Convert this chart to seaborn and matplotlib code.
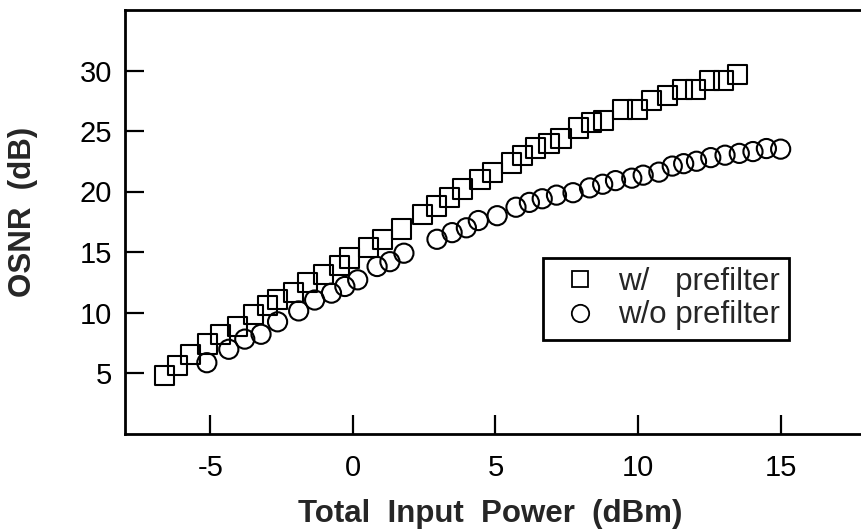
import matplotlib
matplotlib.use("Agg")
import matplotlib.pyplot as plt
from matplotlib.lines import Line2D
import seaborn as sns
import pandas as pd

# ---- data ----
with_x = [-6.6, -6.15, -5.68, -5.1, -4.64, -4.05, -3.47, -3.0, -2.64, -2.07,
          -1.6, -1.02, -0.48, -0.12, 0.55, 1.03, 1.7, 2.44, 2.92, 3.39,
          3.85, 4.46, 4.9, 5.55, 5.95, 6.4, 6.88, 7.3, 7.9, 8.36,
          8.8, 9.45, 9.97, 10.47, 11.03, 11.55, 12.0, 12.5, 13.0, 13.5]
with_y = [4.77, 5.6, 6.5, 7.4, 8.15, 8.86, 9.85, 10.55, 11.05, 11.65,
          12.45, 13.15, 13.9, 14.5, 15.4, 16.0, 16.9, 18.1, 18.8, 19.5,
          20.2, 21.0, 21.6, 22.35, 22.95, 23.6, 24.0, 24.35, 25.25, 25.7,
          25.9, 26.8, 26.8, 27.5, 27.95, 28.45, 28.45, 29.2, 29.2, 29.65]

without_x = [-5.12, -4.35, -3.79, -3.22, -2.64, -1.9, -1.34, -0.75, -0.28, 0.17,
             0.85, 1.3, 1.79, 2.95, 3.48, 3.98, 4.4, 5.06, 5.72, 6.19,
             6.64, 7.14, 7.72, 8.3, 8.76, 9.21, 9.78, 10.18, 10.73, 11.2,
             11.6, 12.05, 12.55, 13.05, 13.55, 14.03, 14.5, 15.0]
without_y = [5.85, 6.96, 7.8, 8.2, 9.23, 10.13, 11.03, 11.6, 12.15, 12.7,
             13.8, 14.2, 14.9, 16.05, 16.6, 17.0, 17.6, 18.0, 18.7, 19.1,
             19.4, 19.7, 19.9, 20.3, 20.6, 20.9, 21.1, 21.35, 21.6, 22.1,
             22.3, 22.5, 22.8, 23.0, 23.15, 23.3, 23.55, 23.5]

series_labels = ["w/   prefilter", "w/o prefilter"]
x_ticks = [-5, 0, 5, 10, 15]
y_ticks = [5, 10, 15, 20, 25, 30]
x_label = "Total  Input  Power  (dBm)"
y_label = "OSNR  (dB)"

# ---- style ----
sns.set_style("ticks")
plt.rcParams["font.family"] = ["Liberation Sans", "DejaVu Sans"]
plt.rcParams["axes.unicode_minus"] = False

W, H = 862, 532
fig = plt.figure(figsize=(W / 100, H / 100), dpi=100)
left_px, right_px, top_px, bottom_px = 124.7, 866.2, 10.0, 433.5
ax = fig.add_axes([left_px / W, 1 - bottom_px / H,
                   (right_px - left_px) / W, (bottom_px - top_px) / H])

df_w = pd.DataFrame({"x": with_x, "y": with_y})
df_wo = pd.DataFrame({"x": without_x, "y": without_y})

ms = 13.8
mew = 1.5
sns.scatterplot(data=df_wo, x="x", y="y", marker="o", s=ms ** 2, color="black",
                facecolor="none", edgecolor="black", linewidth=mew, ax=ax,
                legend=False, zorder=3)
sns.scatterplot(data=df_w, x="x", y="y", marker="s", s=ms ** 2, color="black",
                facecolor="none", edgecolor="black", linewidth=mew, ax=ax,
                legend=False, zorder=3)
for coll in ax.collections:
    coll.set_facecolor("none")
    coll.set_edgecolor("black")

ax.set_xlim(-8, 18)
ax.set_ylim(0, 35)
ax.set_xticks(x_ticks)
ax.set_yticks(y_ticks)
ax.set_xticklabels([str(t) for t in x_ticks])
ax.set_yticklabels([str(t) for t in y_ticks])

for side in ["left", "bottom", "top"]:
    ax.spines[side].set_linewidth(2.0)
    ax.spines[side].set_color("black")
ax.spines["right"].set_visible(False)

ax.tick_params(axis="both", direction="in", length=14, width=1.6, color="black",
               labelsize=21, labelcolor="black", top=False, right=False)
ax.tick_params(axis="x", pad=15)
ax.tick_params(axis="y", pad=9)

ax.set_xlabel(x_label, fontsize=22.5, fontweight="bold")
ax.set_ylabel(y_label, fontsize=22.5, fontweight="bold")
ax.xaxis.set_label_coords((490 - left_px) / (right_px - left_px),
                          (bottom_px - 499) / (bottom_px - top_px))
ax.yaxis.set_label_coords((38 - left_px) / (right_px - left_px),
                          (bottom_px - 212) / (bottom_px - top_px))

handles = [
    Line2D([], [], linestyle="none", marker="s", markersize=11.5,
           markerfacecolor="none", markeredgecolor="black", markeredgewidth=1.3),
    Line2D([], [], linestyle="none", marker="o", markersize=12.5,
           markerfacecolor="none", markeredgecolor="black", markeredgewidth=1.3),
]
leg = ax.legend(handles, series_labels, loc="upper left",
                bbox_to_anchor=(543 / W, 1 - 258 / H),
                bbox_transform=fig.transFigure, borderaxespad=0,
                fontsize=22.5, frameon=True, fancybox=False, framealpha=1,
                edgecolor="black", borderpad=0.3, labelspacing=0.1,
                handlelength=1.8, handletextpad=0.3)
leg.get_frame().set_linewidth(2.0)

fig.savefig("out.png", dpi=100)
